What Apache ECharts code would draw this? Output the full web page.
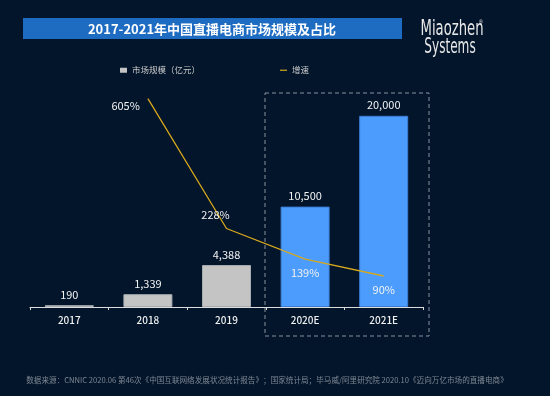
<!DOCTYPE html>
<html>
<head>
<meta charset="utf-8">
<script src="https://cdn.jsdelivr.net/npm/echarts@6/dist/echarts.min.js"></script>
<style>
  html, body { margin: 0; padding: 0; background: #03152b; }
  #main { width: 550px; height: 396px; }
</style>
</head>
<body>
<div id="main"></div>
<script>
const years = ['2017', '2018', '2019', '2020E', '2021E']
const marketSize = [190, 1339, 4388, 10500, 20000]
const growth = ['-', 605, 228, 139, 90]
const growthLabelPos = [null, 'left', 'top', 'bottom', 'bottom']

const chartDom = document.querySelector('#main')
const myChart = echarts.init(chartDom)

const fontCN = '"Noto Sans CJK SC", "Noto Sans", sans-serif'

// actual years grey, estimates blue
const barData = marketSize.map((v, i) => ({
  value: v,
  itemStyle: i < 3
    ? { color: '#c4c4c4', borderColor: '#a9adb2', borderWidth: 1 }
    : { color: '#4c9cfd', borderColor: '#3c7ed4', borderWidth: 1 }
}))

const lineData = growth.map((v, i) => {
  if (v === '-') return v
  const item = { value: v, label: { show: true, position: growthLabelPos[i] } }
  if (i === 1) item.label.offset = [0, 7]
  if (i === 2) item.label.offset = [-11, 0]
  return item
})

const option = {
  backgroundColor: '#03152b',
  textStyle: { fontFamily: fontCN },
  grid: {
    left: 30,
    right: 127,
    top: 68,
    bottom: 89
  },
  legend: {
    left: 115,
    top: 61,
    itemGap: 80,
    itemWidth: 7,
    itemHeight: 5,
    textStyle: { color: '#c9c9c9', fontSize: 8.5, fontFamily: fontCN },
    data: [
      { name: '市场规模（亿元）', icon: 'rect' },
      { name: '增速', icon: 'path://M0,0H7V1.2H0Z' }
    ]
  },
  xAxis: {
    type: 'category',
    data: years,
    axisLine: { lineStyle: { color: '#dcdcdc', width: 1 } },
    axisTick: { show: true, length: 3, lineStyle: { color: '#dcdcdc' } },
    axisLabel: { color: '#f0f0f0', fontSize: 10, fontWeight: 500, margin: 8 }
  },
  yAxis: [
    { type: 'value', min: 0, max: 25000, show: false, splitLine: { show: false } },
    { type: 'value', min: 0, max: 694, show: false, splitLine: { show: false } }
  ],
  series: [
    {
      name: '市场规模（亿元）',
      type: 'bar',
      barWidth: 49,
      data: barData,
      itemStyle: { color: '#c4c4c4' },
      label: {
        show: true,
        position: 'top',
        distance: 5,
        color: '#f2f2f2',
        fontSize: 11,
        formatter: p => p.value.toLocaleString('en-US')
      }
    },
    {
      name: '增速',
      type: 'line',
      yAxisIndex: 1,
      data: lineData,
      symbol: 'circle',
      symbolSize: 0.1,
      showSymbol: true,
      lineStyle: { color: '#d6a81c', width: 1.3 },
      itemStyle: { color: '#d6a81c' },
      label: {
        show: true,
        color: '#f2f2f2',
        fontSize: 11,
        distance: 8,
        formatter: '{c}%'
      }
    }
  ],
  graphic: [
    {
      type: 'rect',
      shape: { x: 23, y: 18, width: 379, height: 21 },
      style: { fill: '#1e6cc2' }
    },
    {
      type: 'text',
      x: 212,
      y: 29,
      style: {
        text: '2017-2021年中国直播电商市场规模及占比',
        fill: '#ffffff',
        font: 'bold 13px ' + fontCN,
        textAlign: 'center',
        textVerticalAlign: 'middle'
      }
    },
    {
      type: 'text',
      x: 452,
      y: 29,
      scaleX: 0.6,
      style: {
        text: 'Miaozhen',
        fill: '#e8e8e8',
        font: '22px "DejaVu Sans", sans-serif',
        textAlign: 'center',
        textVerticalAlign: 'middle'
      }
    },
    {
      type: 'text',
      x: 450,
      y: 47,
      scaleX: 0.55,
      style: {
        text: 'Systems',
        fill: '#e8e8e8',
        font: '22px "DejaVu Sans", sans-serif',
        textAlign: 'center',
        textVerticalAlign: 'middle'
      }
    },
    {
      type: 'text',
      x: 479,
      y: 20,
      style: { text: '®', fill: '#e8e8e8', font: '5px sans-serif' }
    },
    {
      type: 'rect',
      shape: { x: 265, y: 93, width: 164, height: 243 },
      style: { fill: 'none', stroke: '#8b929c', lineWidth: 1, lineDash: [4, 3] }
    },
    {
      type: 'text',
      x: 267,
      y: 380,
      style: {
        text: '数据来源：CNNIC 2020.06 第46次《中国互联网络发展状况统计报告》；国家统计局；毕马威/阿里研究院 2020.10《迈向万亿市场的直播电商》',
        fill: '#7f8793',
        font: '7.6px ' + fontCN,
        textAlign: 'center',
        textVerticalAlign: 'middle'
      }
    }
  ]
}

option && myChart.setOption(option)
</script>
</body>
</html>
